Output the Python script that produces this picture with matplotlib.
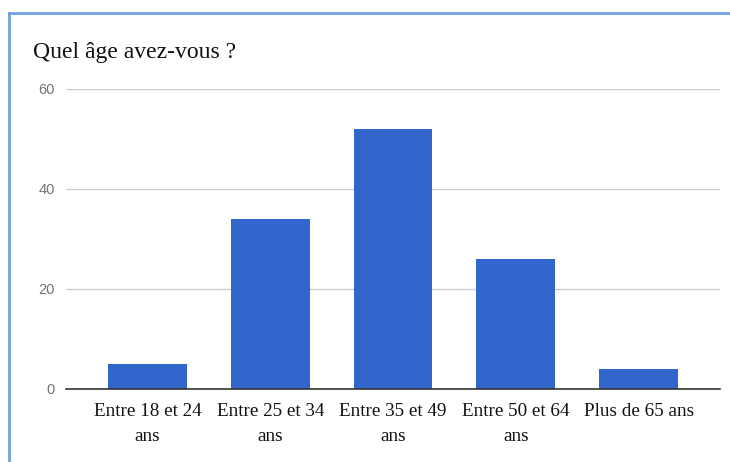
import matplotlib.pyplot as plt
from matplotlib.lines import Line2D

# ====== Data ======
categories = ["Entre 18 et 24\nans", "Entre 25 et 34\nans", "Entre 35 et 49\nans",
              "Entre 50 et 64\nans", "Plus de 65 ans"]
counts = [5, 34, 52, 26, 4]
yticks = [0, 20, 40, 60]
title = "Quel âge avez-vous ?"
# ==================

BAR_COLOR = "#3366cc"
W, H = 730, 462

fig = plt.figure(figsize=(W / 100, H / 100), dpi=100)
ax = fig.add_axes([66 / W, 73 / H, (720 - 66) / W, 300 / H])

x = list(range(len(categories)))
ax.bar(x, counts, width=0.642, color=BAR_COLOR, zorder=3)

ax.set_xlim(-0.663, len(categories) - 1 + 0.663)
ax.set_ylim(0, 60)
ax.set_yticks(yticks)
ax.set_yticklabels([str(t) for t in yticks], fontfamily="Liberation Sans",
                   fontsize=10.5, color="#757575")
ax.set_xticks(x)
ax.set_xticklabels(categories, fontfamily="Liberation Serif", fontsize=13.8,
                   color="#111111", linespacing=1.65)
ax.tick_params(axis="y", length=0, pad=8)
ax.tick_params(axis="x", length=0, pad=10)

ax.grid(axis="y", color="#cccccc", linewidth=1, zorder=0)
for s in ["top", "right", "left"]:
    ax.spines[s].set_visible(False)
ax.spines["bottom"].set_color("#333333")
ax.spines["bottom"].set_linewidth(1.2)
ax.spines["bottom"].set_zorder(4)

fig.text(33 / W, 1 - 58 / H, title, fontfamily="Liberation Serif",
         fontsize=17, color="#111111", va="baseline", ha="left")

# light blue frame (top and left edges)
fig.add_artist(Line2D([9 / W, 1], [1 - 13 / H, 1 - 13 / H], color="#6fa2dc", lw=2))
fig.add_artist(Line2D([9 / W, 9 / W], [0, 1 - 13 / H], color="#6fa2dc", lw=2))

fig.savefig("out.png", dpi=100)
